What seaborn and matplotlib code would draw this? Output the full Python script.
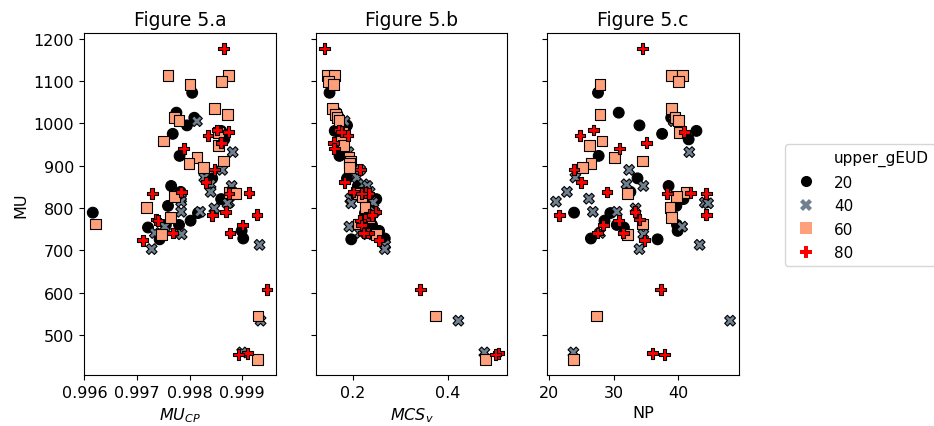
import matplotlib
matplotlib.use("Agg")
import matplotlib.pyplot as plt
from matplotlib.lines import Line2D
from matplotlib.ticker import MultipleLocator
import seaborn as sns
import pandas as pd

# values, one list per gEUD group
mu_20 = [1072, 1025, 1013, 995, 982, 975, 962, 923, 870, 852, 838, 821, 805, 789, 788, 770, 760, 760, 754, 746, 728, 726]
cp_20 = [0.99805, 0.99775, 0.99809, 0.99795, 0.99860, 0.99768, 0.99866, 0.99781, 0.99843, 0.99765, 0.99783,
         0.99860, 0.99759, 0.99616, 0.99816, 0.99802, 0.99755, 0.99780, 0.99721, 0.99899, 0.99902, 0.99743]
mcs_20 = [0.150, 0.165, 0.170, 0.187, 0.161, 0.180, 0.175, 0.171, 0.187, 0.210, 0.220,
          0.249, 0.240, 0.230, 0.225, 0.232, 0.212, 0.240, 0.225, 0.255, 0.267, 0.196]
np_20 = [27.6, 30.8, 38.9, 34.0, 42.8, 37.5, 41.6, 27.7, 33.7, 38.5, 32.6,
         40.8, 39.7, 23.9, 29.5, 28.6, 39.8, 30.5, 31.6, 39.9, 26.5, 36.8]

mu_40 = [1005, 932, 890, 872, 856, 852, 838, 822, 815, 813, 811, 799, 791, 791, 756, 741, 738, 713, 703, 534, 459]
cp_40 = [0.99814, 0.99882, 0.99862, 0.99828, 0.99840, 0.99880, 0.99840, 0.99784, 0.99784, 0.99875, 0.99872,
         0.99847, 0.99784, 0.99820, 0.99753, 0.99734, 0.99785, 0.99933, 0.99728, 0.99935, 0.99900]
mcs_40 = [0.182, 0.190, 0.215, 0.208, 0.222, 0.230, 0.235, 0.194, 0.240, 0.243, 0.196,
          0.228, 0.236, 0.245, 0.192, 0.215, 0.230, 0.268, 0.267, 0.423, 0.478]
np_40 = [39.3, 41.7, 32.4, 24.1, 32.0, 34.6, 22.8, 26.2, 21.1, 44.1, 44.6,
         33.4, 26.8, 30.5, 40.6, 27.9, 34.6, 43.3, 34.0, 48.0, 23.8]

mu_60 = [1113, 1113, 1098, 1092, 1035, 1021, 1013, 1007, 978, 958, 948, 919, 911, 905, 896, 836, 835, 827, 801, 777, 762, 737, 545, 442]
cp_60 = [0.99759, 0.99874, 0.99861, 0.99801, 0.99847, 0.99872, 0.99772, 0.99780, 0.99855, 0.99750, 0.99855, 0.99814,
         0.99865, 0.99799, 0.99826, 0.99875, 0.99888, 0.99772, 0.99718, 0.99764, 0.99621, 0.99747, 0.99930, 0.99929]
mcs_60 = [0.145, 0.161, 0.147, 0.158, 0.156, 0.163, 0.166, 0.170, 0.178, 0.173, 0.180, 0.191,
          0.195, 0.193, 0.192, 0.207, 0.212, 0.219, 0.225, 0.235, 0.211, 0.249, 0.374, 0.480]
np_60 = [39.0, 40.6, 40.0, 27.9, 39.0, 27.9, 39.5, 40.0, 40.2, 28.2, 26.3, 30.2,
         34.5, 26.5, 25.2, 41.2, 32.1, 39.7, 38.7, 38.9, 34.5, 32.1, 27.4, 23.8]

mu_80 = [1176, 984, 980, 971, 954, 940, 891, 861, 838, 836, 834, 834, 791, 784, 783, 773, 770, 760, 741, 741, 724, 608, 457, 454]
cp_80 = [0.99865, 0.99852, 0.99874, 0.99835, 0.99860, 0.99789, 0.99847, 0.99831, 0.99784, 0.99913, 0.99729, 0.99875,
         0.99869, 0.99928, 0.99843, 0.99736, 0.99740, 0.99901, 0.99768, 0.99877, 0.99711, 0.99947, 0.99910, 0.99893]
mcs_80 = [0.139, 0.170, 0.175, 0.189, 0.159, 0.160, 0.215, 0.182, 0.201, 0.226, 0.233, 0.218,
          0.247, 0.235, 0.240, 0.225, 0.215, 0.218, 0.232, 0.222, 0.255, 0.342, 0.508, 0.502]
np_80 = [34.5, 26.9, 40.9, 24.8, 35.1, 30.9, 23.9, 25.0, 29.0, 41.9, 38.3, 44.3,
         33.3, 44.3, 21.6, 34.0, 30.8, 28.4, 27.5, 31.5, 34.8, 37.3, 36.0, 37.9]

groups = [20, 40, 60, 80]
titles = ["Figure 5.a", "Figure 5.b", "Figure 5.c"]
xcols = ["MU_CP", "MCS_v", "NP"]
xlabels = [r"$MU_{CP}$", r"$MCS_v$", "NP"]

frames = []
for g, mu, cp, mcs, n in zip(groups, [mu_20, mu_40, mu_60, mu_80], [cp_20, cp_40, cp_60, cp_80],
                             [mcs_20, mcs_40, mcs_60, mcs_80], [np_20, np_40, np_60, np_80]):
    frames.append(pd.DataFrame({"MU": mu, "MU_CP": cp, "MCS_v": mcs, "NP": n, "upper_gEUD": g}))
df = pd.concat(frames, ignore_index=True)

palette = {20: "black", 40: "slategray", 60: "lightsalmon", 80: "red"}
markers = {20: "o", 40: "X", 60: "s", 80: "P"}

fig, axes = plt.subplots(1, 3, figsize=(9.34, 4.27), dpi=100, sharey=True)
fig.subplots_adjust(left=0.09, right=0.791, bottom=0.119, top=0.92, wspace=0.209)

for ax, col, title, xlabel in zip(axes, xcols, titles, xlabels):
    sns.scatterplot(data=df, x=col, y="MU", hue="upper_gEUD", style="upper_gEUD",
                    palette=palette, markers=markers, s=60, edgecolor="black",
                    linewidth=0.8, ax=ax, legend=False)
    ax.set_title(title, fontsize=13.5)
    ax.set_xlabel(xlabel, fontsize=11.5)
    ax.set_ylabel("")
    ax.tick_params(labelsize=11.5)
axes[0].set_ylabel("MU", fontsize=11.5)
axes[0].xaxis.set_major_locator(MultipleLocator(0.001))

# legend with the group name as a plain first row, like older seaborn
handles = [Line2D([], [], linestyle="none", marker="", label="upper_gEUD")]
for g in groups:
    handles.append(Line2D([], [], linestyle="none", marker=markers[g], color=palette[g],
                          markersize=8, markeredgewidth=0, label=str(g)))
fig.legend(handles=handles, loc="upper left", bbox_to_anchor=(785 / 934, 1 - 145 / 427),
           borderaxespad=0, fontsize=11, labelspacing=0.55, frameon=True)

fig.savefig("out.png", dpi=100)
